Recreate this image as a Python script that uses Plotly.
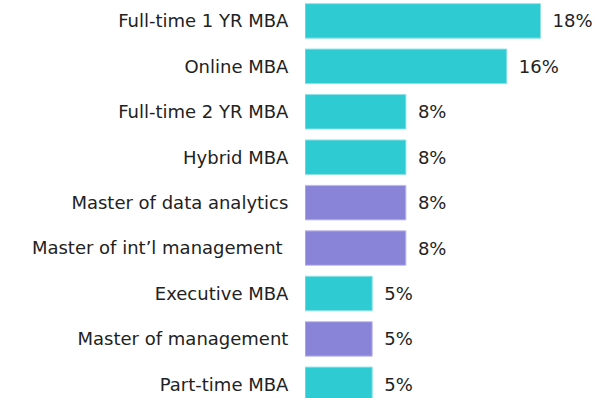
import plotly.graph_objects as go

# programme types, top to bottom
programs = [
    "Full-time 1 YR MBA",
    "Online MBA",
    "Full-time 2 YR MBA",
    "Hybrid MBA",
    "Master of data analytics",
    "Master of int’l management ",
    "Executive MBA",
    "Master of management",
    "Part-time MBA",
]
shares = [18.67, 16.0, 8.0, 8.0, 8.0, 8.0, 5.33, 5.33, 5.33]
labels = ["18%", "16%", "8%", "8%", "8%", "8%", "5%", "5%", "5%"]
groups = ["mba", "mba", "mba", "mba", "master", "master", "mba", "master", "mba"]

group_colors = {"mba": "#2ECBD3", "master": "#8A84D8"}
line_colors = {"mba": "#8FE3E8", "master": "#C2BEEC"}

fig = go.Figure(
    go.Bar(
        x=shares,
        y=programs,
        orientation="h",
        text=labels,
        texttemplate="\u2002%{text}",
        textposition="outside",
        constraintext="none",
        cliponaxis=False,
        marker=dict(
            color=[group_colors[g] for g in groups],
            line=dict(color=[line_colors[g] for g in groups], width=1),
        ),
        textfont=dict(size=18, color="#222222"),
    )
)

fig.update_layout(
    width=597,
    height=398,
    margin=dict(l=305, r=0, t=0, b=0),
    plot_bgcolor="white",
    paper_bgcolor="white",
    bargap=0.24,
    showlegend=False,
    font=dict(family="DejaVu Sans", size=18, color="#222222"),
)
fig.update_xaxes(range=[0, 23.15], visible=False)
fig.update_yaxes(
    range=[8.30, -0.46],
    showgrid=False,
    showline=False,
    ticks="outside",
    ticklen=12,
    tickcolor="rgba(0,0,0,0)",
    tickfont=dict(size=18, color="#222222"),
)

# the page's default body margin would shift the figure by 8px
fig.write_html(
    "out.html",
    config={"displayModeBar": False},
    post_script="document.body.style.margin='0';",
)
